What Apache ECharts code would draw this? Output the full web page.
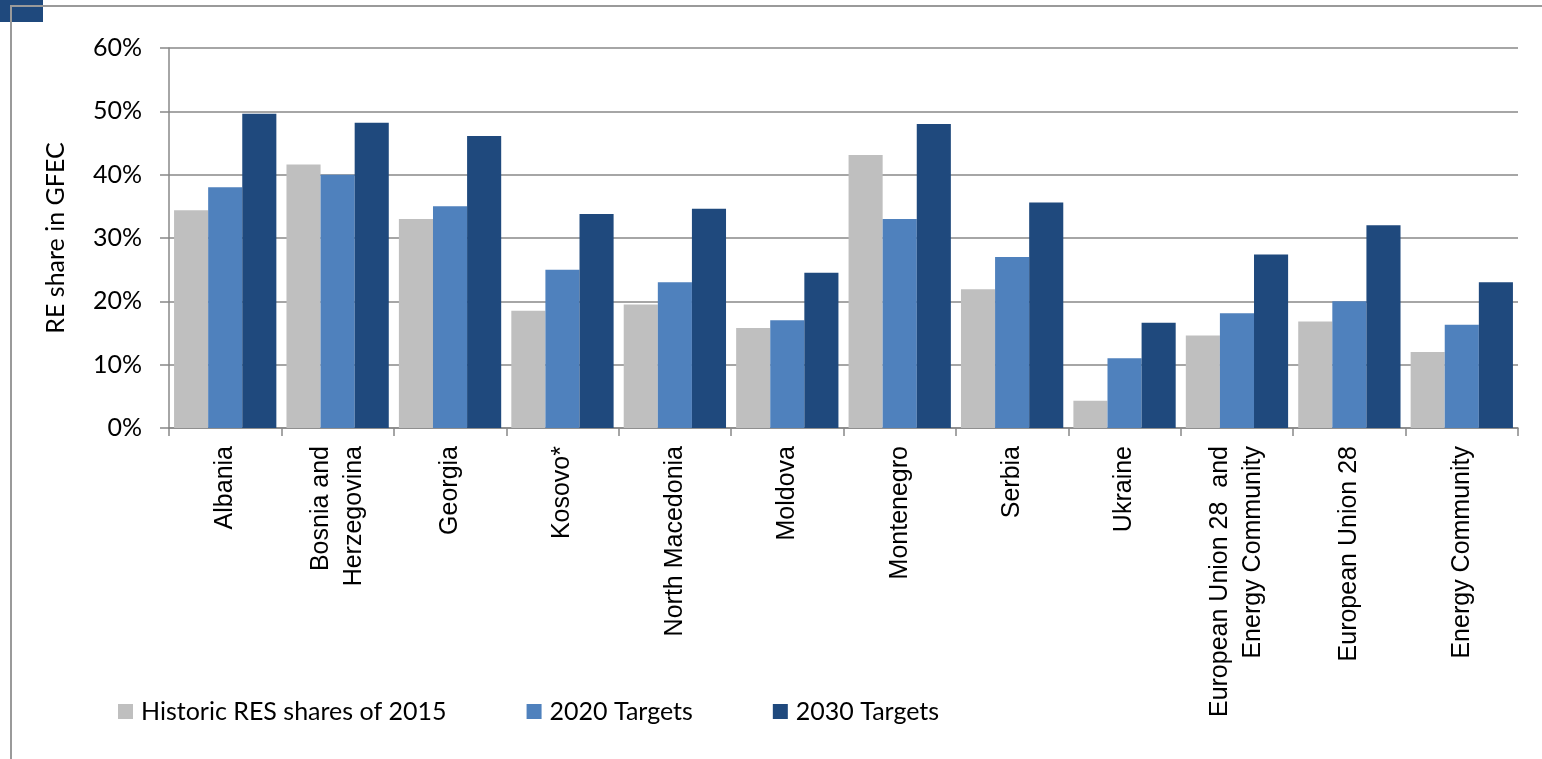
<!DOCTYPE html>
<html><head><meta charset="utf-8">
<script src="https://cdn.jsdelivr.net/npm/echarts@6/dist/echarts.min.js"></script>
<style>html,body{margin:0;padding:0;background:#fff}#c{width:1542px;height:759px}</style>
</head><body><div id="c"></div>
<script>
const categories = ["Albania","Bosnia and\nHerzegovina","Georgia","Kosovo*","North Macedonia","Moldova","Montenegro","Serbia","Ukraine","European Union 28  and\nEnergy Community","European Union 28","Energy Community"];
const historic2015 = [34.4,41.6,33.0,18.5,19.5,15.8,43.1,21.9,4.3,14.6,16.8,12.0];
const targets2020 = [38.0,40.0,35.0,25.0,23.0,17.0,33.0,27.0,11.0,18.1,20.0,16.3];
const targets2030 = [49.6,48.2,46.1,33.8,34.6,24.5,48.0,35.6,16.6,27.4,32.0,23.0];
const seriesNames = ["Historic RES shares of 2015","2020 Targets","2030 Targets"];
const yTicks = {min:0,max:60,interval:10};

const FONT = 'Lato';
const CATFONT = '"Liberation Sans", Arial, sans-serif';
const chart = echarts.init(document.getElementById('c'));
const axisGrey = '#888888';
chart.setOption({
  animation:false,
  textStyle:{fontFamily:FONT,color:'#000'},
  graphic:[
    {type:'rect',shape:{x:0,y:0,width:43,height:22},style:{fill:'#1F497D'},z:0},
    {type:'line',shape:{x1:10,y1:6,x2:1542,y2:6},style:{stroke:'#9a9a9a',lineWidth:2},z:1},
    {type:'line',shape:{x1:11,y1:6,x2:11,y2:759},style:{stroke:'#9a9a9a',lineWidth:2},z:1}
  ],
  grid:{left:169,right:24,top:48,bottom:331,containLabel:false},
  legend:{
    left:113,top:694,itemWidth:15,itemHeight:15,itemGap:80,icon:'rect',
    textStyle:{fontFamily:FONT,fontSize:25,color:'#000',padding:[0,0,0,3]},
    data:seriesNames
  },
  xAxis:{
    type:'category',data:categories,
    axisLine:{lineStyle:{color:axisGrey,width:1.5}},
    axisTick:{show:true,length:8,lineStyle:{color:axisGrey,width:1.5},alignWithLabel:false},
    axisLabel:{rotate:90,interval:0,margin:18,fontFamily:CATFONT,fontSize:25,color:'#000',lineHeight:33}
  },
  yAxis:{
    type:'value',min:yTicks.min,max:yTicks.max,interval:yTicks.interval,
    name:'RE share in GFEC',nameLocation:'middle',nameGap:101,
    nameTextStyle:{fontFamily:FONT,fontSize:25,color:'#000'},
    axisLine:{show:true,lineStyle:{color:axisGrey,width:1.5}},
    axisTick:{show:true,length:9,lineStyle:{color:axisGrey,width:1.5}},
    splitLine:{lineStyle:{color:axisGrey,width:1.5}},
    axisLabel:{formatter:'{value}%',margin:27,fontFamily:FONT,fontSize:25,color:'#000'}
  },
  series:[
    {name:seriesNames[0],type:'bar',data:historic2015,itemStyle:{color:'#BFBFBF'},barGap:'0%',barCategoryGap:'9%'},
    {name:seriesNames[1],type:'bar',data:targets2020,itemStyle:{color:'#4F81BD'},barGap:'0%',barCategoryGap:'9%'},
    {name:seriesNames[2],type:'bar',data:targets2030,itemStyle:{color:'#1F497D'},barGap:'0%',barCategoryGap:'9%'}
  ]
});
</script></body></html>
